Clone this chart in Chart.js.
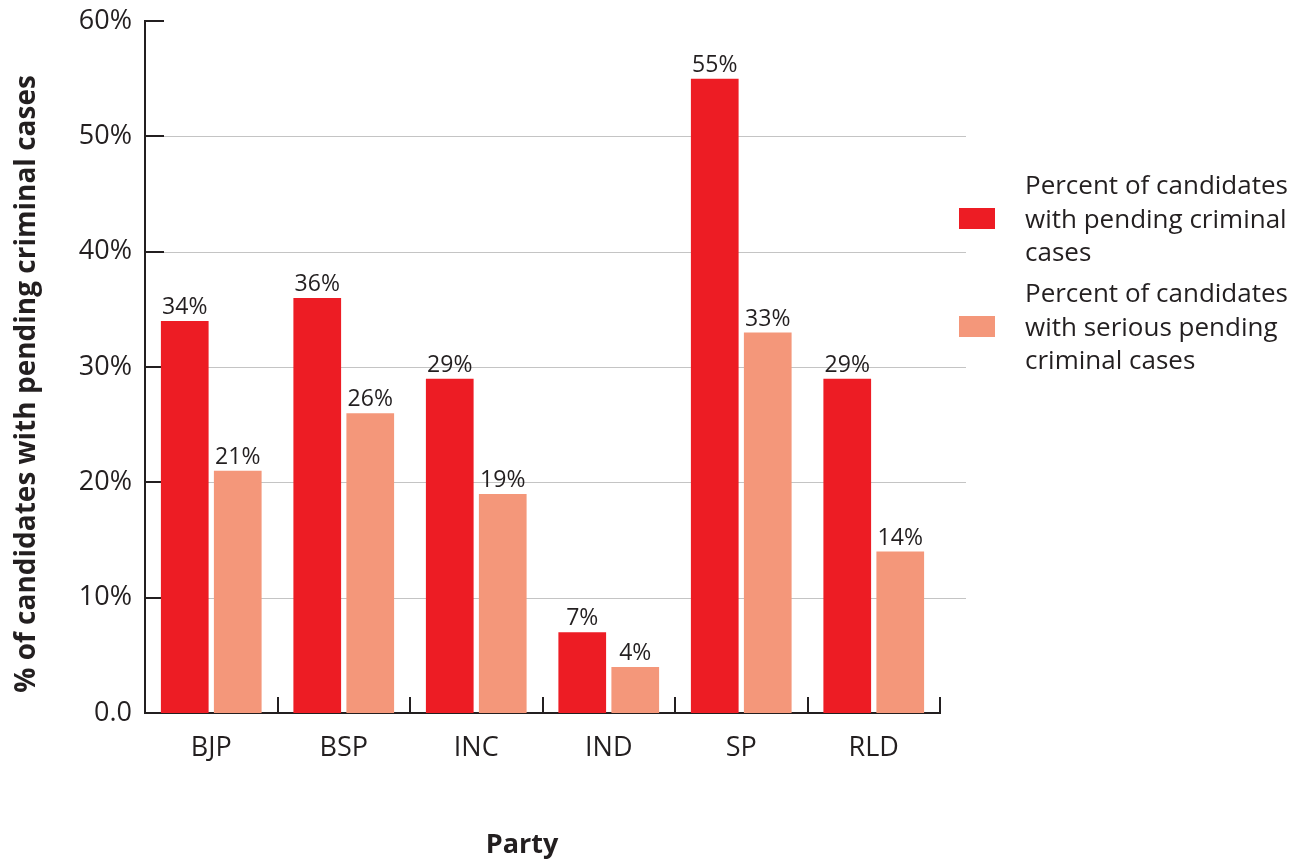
<!DOCTYPE html>
<html>
<head>
<meta charset="utf-8">
<script src="https://cdn.jsdelivr.net/npm/chart.js@4"></script>
<style>
html,body{margin:0;padding:0;background:#fff}
</style>
</head>
<body>
<canvas id="myChart" width="1312" height="865"></canvas>
<script>
const parties = ['BJP', 'BSP', 'INC', 'IND', 'SP', 'RLD']
const pendingCases = [34, 36, 29, 7, 55, 29]
const seriousCases = [21, 26, 19, 4, 33, 14]
const seriesNames = [
  ['Percent of candidates', 'with pending criminal', 'cases'],
  ['Percent of candidates', 'with serious pending', 'criminal cases']
]
const yTickValues = [0, 10, 20, 30, 40, 50, 60]
const yTitle = '% of candidates with pending criminal cases'
const xTitle = 'Party'

const red = '#ed1c24'
const salmon = '#f4977a'
const ink = '#231f20'
const font = '"Open Sans", "Noto Sans", sans-serif'

// gridlines + inner tick marks, drawn behind the bars
const axisMarks = {
  id: 'axisMarks',
  beforeDatasetsDraw(chart) {
    const ctx = chart.ctx
    const area = chart.chartArea
    const y = chart.scales.y
    const x = chart.scales.x
    ctx.save()
    yTickValues.forEach(v => {
      const py = Math.round(y.getPixelForValue(v)) + 0.5
      if (v > 0 && v < 60) {
        ctx.strokeStyle = '#c4c4c4'
        ctx.lineWidth = 1
        ctx.beginPath()
        ctx.moveTo(area.left + 19, py)
        ctx.lineTo(area.right + 26, py)
        ctx.stroke()
      }
      ctx.strokeStyle = ink
      ctx.lineWidth = 2
      ctx.beginPath()
      ctx.moveTo(area.left, Math.round(y.getPixelForValue(v)))
      ctx.lineTo(area.left + 19, Math.round(y.getPixelForValue(v)))
      ctx.stroke()
    })
    // category boundary ticks pointing up from the x axis
    const step = (area.right - area.left) / parties.length
    ctx.strokeStyle = ink
    ctx.lineWidth = 2
    for (let i = 1; i <= parties.length; i++) {
      const px = Math.round(x.getPixelForValue(i - 1) + step / 2)
      ctx.beginPath()
      ctx.moveTo(px, area.bottom)
      ctx.lineTo(px, area.bottom - 16)
      ctx.stroke()
    }
    ctx.restore()
  },
  afterDatasetsDraw(chart) {
    const ctx = chart.ctx
    ctx.save()
    ctx.fillStyle = ink
    ctx.font = '23px ' + font
    ctx.textAlign = 'center'
    ctx.textBaseline = 'bottom'
    chart.data.datasets.forEach((ds, di) => {
      chart.getDatasetMeta(di).data.forEach((bar, i) => {
        ctx.fillText(ds.data[i] + '%', bar.x, bar.y - 2)
      })
    })
    ctx.restore()
  },
  afterDraw(chart) {
    const ctx = chart.ctx
    const area = chart.chartArea
    ctx.save()
    // legend
    ctx.font = '26px ' + font
    ctx.textAlign = 'left'
    ctx.textBaseline = 'middle'
    chart.data.datasets.forEach((ds, di) => {
      const top = 187 + di * 108
      ctx.fillStyle = ds.backgroundColor
      ctx.fillRect(area.right + 19, top + 21, 36, 21)
      ctx.fillStyle = ink
      seriesNames[di].forEach((line, li) => {
        ctx.fillText(line, area.right + 85, top + li * 33.5)
      })
    })
    // axis titles
    ctx.font = 'bold 27px ' + font
    ctx.textAlign = 'center'
    ctx.fillText(xTitle, 522, 845)
    ctx.font = 'bold 28px ' + font
    ctx.translate(27, 384)
    ctx.rotate(-Math.PI / 2)
    ctx.fillText(yTitle, 0, 0)
    ctx.restore()
  }
}

const data = {
  labels: parties,
  datasets: [
    { label: 'pending', data: pendingCases, backgroundColor: red },
    { label: 'serious', data: seriousCases, backgroundColor: salmon }
  ]
}

const config = {
  type: 'bar',
  data: data,
  options: {
    responsive: false,
    animation: false,
    events: [],
    layout: { padding: { top: 4, right: 372, left: 0, bottom: 0 } },
    datasets: { bar: { categoryPercentage: 0.8, barPercentage: 0.9 } },
    plugins: { legend: { display: false }, tooltip: { enabled: false } },
    scales: {
      x: {
        grid: { display: false },
        border: { display: true, color: ink, width: 2 },
        ticks: { color: ink, font: { family: font, size: 27 }, padding: 11 },
        afterFit: s => { s.height = 152 }
      },
      y: {
        min: 0,
        max: 60,
        grid: { display: false },
        border: { display: true, color: ink, width: 2 },
        ticks: {
          stepSize: 10,
          color: ink,
          padding: 5,
          font: { family: font, size: 27 },
          callback: v => v === 0 ? '0.0' : v + '%'
        },
        afterFit: s => { s.width = 145 }
      }
    }
  },
  plugins: [axisMarks]
}

const myChart = new Chart(document.getElementById('myChart'), config)
</script>
</body>
</html>
